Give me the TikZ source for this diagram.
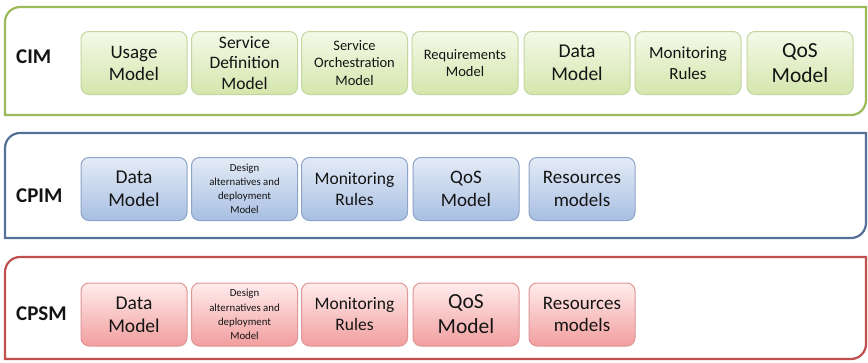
\documentclass[tikz,border=0pt]{standalone}
\usepackage{fontspec}
\setmainfont{Carlito}
\definecolor{gline}{RGB}{155,187,89}
\definecolor{bline}{RGB}{84,112,155}
\definecolor{rline}{RGB}{192,80,77}
\definecolor{gtop}{RGB}{244,249,232}
\definecolor{gbot}{RGB}{212,230,172}
\definecolor{gbd}{RGB}{196,214,160}
\definecolor{btop}{RGB}{228,235,246}
\definecolor{bbot}{RGB}{168,191,226}
\definecolor{bbd}{RGB}{140,164,200}
\definecolor{rtop}{RGB}{255,236,236}
\definecolor{rbot}{RGB}{242,158,158}
\definecolor{rbd}{RGB}{222,150,150}
\definecolor{txt}{RGB}{20,20,20}
\tikzset{
  layer/.style={line width=2.2pt, fill=white},
  mbox/.style={rounded corners=8pt, line width=1pt, minimum width=106pt, minimum height=63pt,
    align=center, inner sep=1pt, text=txt},
  gbox/.style={mbox, draw=gbd, top color=gtop, bottom color=gbot},
  bbox/.style={mbox, draw=bbd, top color=btop, bottom color=bbot},
  rbox/.style={mbox, draw=rbd, top color=rtop, bottom color=rbot},
  lbl/.style={font=\bfseries\fontsize{21}{24}\selectfont, text=txt, anchor=west, inner sep=0pt},
}
\newcommand\fs[2]{\fontsize{#1}{#2}\selectfont}
\begin{document}
\begin{tikzpicture}[x=1pt,y=-1pt]
\useasboundingbox (0,0) rectangle (868,362);
% layers
\draw[layer, draw=gline] (5,115) -- (5,22) arc[start angle=180,end angle=270,radius=15] -- (866,7) -- (866,100) arc[start angle=0,end angle=90,radius=15] -- cycle;
\draw[layer, draw=bline] (5,238) -- (5,148) arc[start angle=180,end angle=270,radius=15] -- (866,133) -- (866,223) arc[start angle=0,end angle=90,radius=15] -- cycle;
\draw[layer, draw=rline] (5,359) -- (5,272) arc[start angle=180,end angle=270,radius=15] -- (866,257) -- (866,344) arc[start angle=0,end angle=90,radius=15] -- cycle;
% labels
\node[lbl] (cim) at (16,56.5) {CIM};
\node[lbl] (cpim) at (16,195.5) {CPIM};
\node[lbl] (cpsm) at (16,314) {CPSM};
% CIM boxes
\node[gbox, font=\fs{19}{22}] (usage) at (134,63) {Usage\\Model};
\node[gbox, font=\fs{17.5}{20.5}] (sdef) at (244.5,63) {Service\\Definition\\Model};
\node[gbox, font=\fs{14.5}{17.5}] (sorch) at (354.5,63) {Service\\Orchestration\\Model};
\node[gbox, font=\fs{14.5}{17.5}] (req) at (465,63) {Requirements\\Model};
\node[gbox, font=\fs{19.5}{23}] (cdata) at (577,63) {Data\\Model};
\node[gbox, font=\fs{17}{20.5}] (cmon) at (688,63) {Monitoring\\Rules};
\node[gbox, font=\fs{21.5}{25}] (cqos) at (800,63) {QoS\\Model};
% CPIM boxes
\node[bbox, font=\fs{19.5}{23}] (pdata) at (134,189) {Data\\Model};
\node[bbox, font=\fs{10.8}{14.2}] (pdes) at (244.5,189) {Design\\alternatives and\\deployment\\Model};
\node[bbox, font=\fs{17.5}{21}] (pmon) at (354.5,189) {Monitoring\\Rules};
\node[bbox, font=\fs{19}{22.5}] (pqos) at (466,189) {QoS\\Model};
\node[bbox, font=\fs{19}{22.5}] (pres) at (582,189) {Resources\\models};
% CPSM boxes
\node[rbox, font=\fs{19.5}{23}] (sdata) at (134,314.5) {Data\\Model};
\node[rbox, font=\fs{10.8}{14.2}] (sdes) at (244.5,314.5) {Design\\alternatives and\\deployment\\Model};
\node[rbox, font=\fs{17.5}{21}] (smon) at (354.5,314.5) {Monitoring\\Rules};
\node[rbox, font=\fs{21.5}{25}] (sqos) at (466,314.5) {QoS\\Model};
\node[rbox, font=\fs{19}{22.5}] (sres) at (582,314.5) {Resources\\models};
\end{tikzpicture}
\end{document}
